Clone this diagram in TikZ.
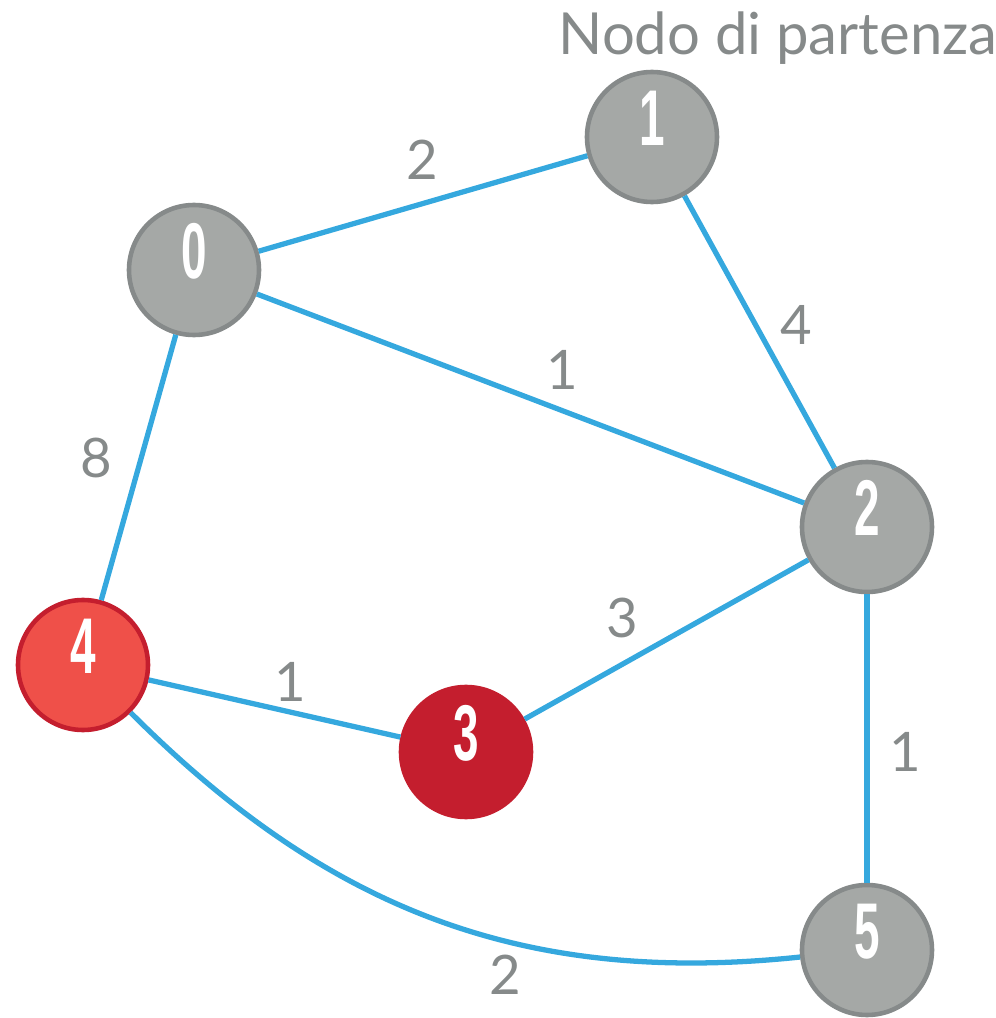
\documentclass[tikz,border=0pt]{standalone}
\usepackage{fontspec}
\setmainfont{Lato}
\newfontfamily\digitfont{Liberation Sans}
\definecolor{edgeblue}{RGB}{53,168,222}
\definecolor{labelgray}{RGB}{134,138,138}
\definecolor{nodegray}{RGB}{165,168,166}
\definecolor{lightred}{RGB}{239,80,73}
\definecolor{darkred}{RGB}{196,30,46}
\newcommand{\numnode}[1]{\scalebox{0.58}[1]{#1}}
\begin{document}
\begin{tikzpicture}[
		vertex/.style={circle, draw=labelgray, fill=nodegray, line width=1.3pt, minimum size=1.3cm, inner sep=0pt,
			text=white, font=\digitfont\bfseries\fontsize{22.5}{22.5}\selectfont, text height=0.55cm, text depth=0.38cm},
		edge/.style={edgeblue, line width=1.5pt},
		weight/.style={text=labelgray, font=\fontsize{15.5}{15.5}\selectfont}
	]
		\useasboundingbox (0,0) rectangle (9.96,10.18);
		\node[vertex] (n0) at (1.94,7.48) {\numnode{0}};
		\node[vertex] (n1) at (6.52,8.81) {\numnode{1}};
		\node[vertex] (n2) at (8.67,4.91) {\numnode{2}};
		\node[vertex, draw=darkred, fill=darkred] (n3) at (4.66,2.66) {\numnode{3}};
		\node[vertex, draw=darkred, fill=lightred] (n4) at (0.83,3.53) {\numnode{4}};
		\node[vertex] (n5) at (8.67,0.68) {\numnode{5}};
		\node[weight, anchor=base, font=\fontsize{16.5}{16.5}\selectfont] (start) at (7.78,9.63) {Nodo di partenza};
		\draw[edge] (n0) -- (n1);
		\draw[edge] (n1) -- (n2);
		\draw[edge] (n0) -- (n2);
		\draw[edge] (n0) -- (n4);
		\draw[edge] (n2) -- (n3);
		\draw[edge] (n4) -- (n3);
		\draw[edge] (n2) -- (n5);
		\draw[edge] (n4) to[out=-45, in=186] (n5);
		\node[weight] (w01) at (4.22,8.58) {2};
		\node[weight] (w12) at (7.96,6.93) {4};
		\node[weight] (w02) at (5.62,6.48) {1};
		\node[weight] (w04) at (0.96,5.60) {8};
		\node[weight] (w23) at (6.22,4.00) {3};
		\node[weight] (w43) at (2.90,3.36) {1};
		\node[weight] (w25) at (9.05,2.66) {1};
		\node[weight] (w45) at (5.05,0.43) {2};
	\end{tikzpicture}
\end{document}
